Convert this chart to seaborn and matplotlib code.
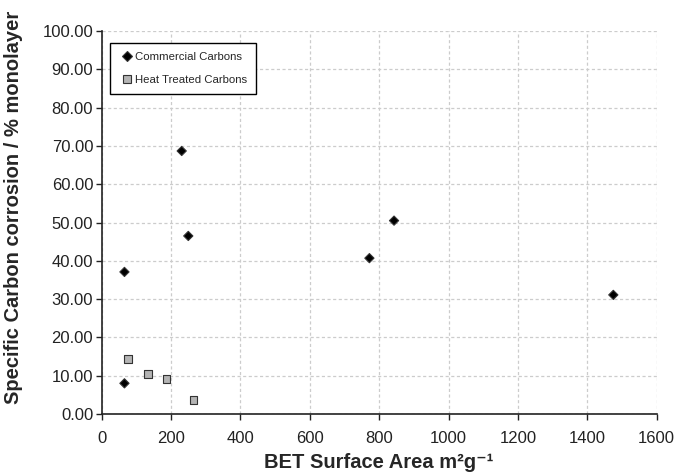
import matplotlib
matplotlib.use("Agg")
import matplotlib.pyplot as plt
import seaborn as sns
import pandas as pd

# BET surface area (m2/g) and specific corrosion (% monolayer)
commercial_area = [66, 66, 231, 250, 772, 843, 1475]
commercial_corrosion = [37.1, 8.0, 68.7, 46.5, 40.7, 50.5, 31.1]
heat_area = [76, 134, 187, 265]
heat_corrosion = [14.3, 10.4, 9.2, 3.6]
series_names = ["Commercial Carbons", "Heat Treated Carbons"]

df = pd.DataFrame({
    "area": commercial_area + heat_area,
    "corrosion": commercial_corrosion + heat_corrosion,
    "group": [series_names[0]] * len(commercial_area) + [series_names[1]] * len(heat_area),
})

sns.set_style("white")
plt.rcParams["font.family"] = ["Liberation Sans", "DejaVu Sans"]

fig = plt.figure(figsize=(6.77, 4.72), dpi=100)
ax = fig.add_axes([0.150, 0.123, 0.820, 0.811])

sns.scatterplot(
    data=df, x="area", y="corrosion", hue="group", style="group", size="group",
    hue_order=series_names, style_order=series_names, size_order=series_names,
    palette={series_names[0]: "black", series_names[1]: "#b4b4b4"},
    markers={series_names[0]: "D", series_names[1]: "s"},
    sizes={series_names[0]: 22, series_names[1]: 30},
    edgecolor="#333333", linewidth=0.8, ax=ax, zorder=3,
)

ax.set_xlim(0, 1600)
ax.set_ylim(0, 100)
ax.set_xticks(range(0, 1601, 200))
ax.set_yticks(range(0, 101, 10))
ax.set_yticklabels([f"{v:.2f}" for v in range(0, 101, 10)])

ax.grid(True, color="#cccccc", linestyle=(0, (2.5, 2)), linewidth=0.9)
ax.set_axisbelow(True)
for side in ["top", "right"]:
    ax.spines[side].set_visible(False)
for side in ["left", "bottom"]:
    ax.spines[side].set_color("#222222")
    ax.spines[side].set_linewidth(1.2)

ax.tick_params(axis="both", which="major", direction="out", length=4, width=1,
               color="#222222", labelsize=12, labelcolor="#222222", bottom=True, left=True)
ax.tick_params(axis="x", pad=8)
ax.tick_params(axis="y", pad=2)

ax.set_xlabel("BET Surface Area m²g⁻¹", fontsize=14.5, fontweight="bold", labelpad=5)
ax.set_ylabel("Specific Carbon corrosion / % monolayer", fontsize=14.5, fontweight="bold")
ax.yaxis.set_label_coords(-0.142, 0.54)

leg = ax.legend(loc="upper left", bbox_to_anchor=(0.005, 0.985), fontsize=8.2, frameon=True,
                fancybox=False, edgecolor="black", framealpha=1, borderpad=0.85,
                labelspacing=1.1, handletextpad=0.1, handlelength=1.2)
leg.get_frame().set_linewidth(1.0)

fig.savefig("out.png", dpi=100)
